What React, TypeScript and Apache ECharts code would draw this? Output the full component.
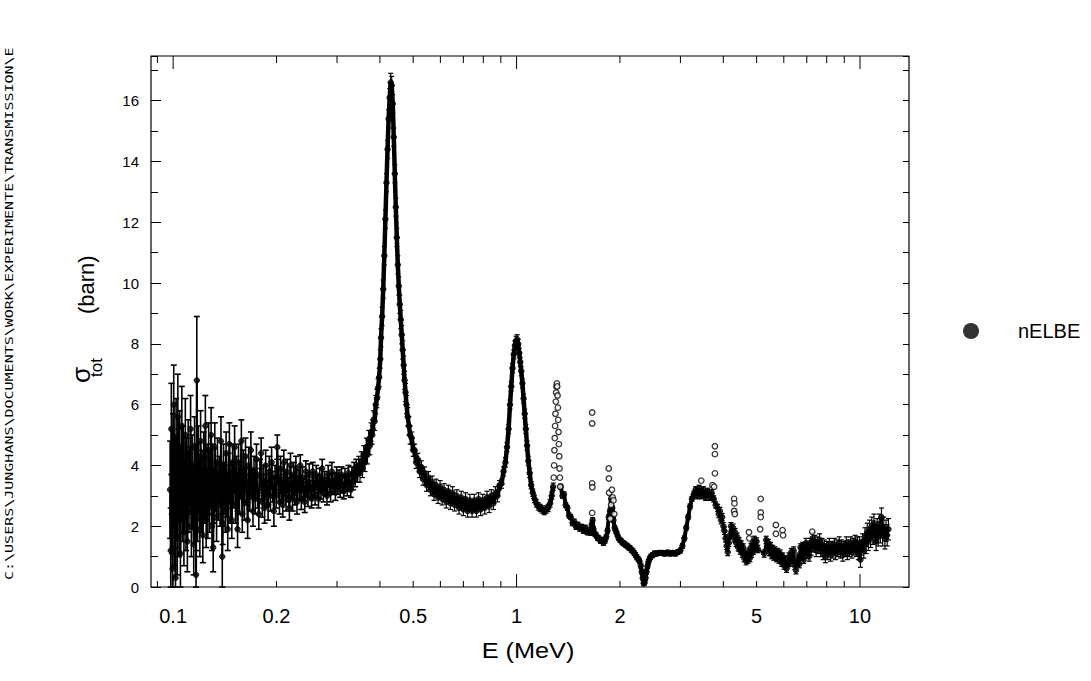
import React, { useEffect, useRef } from "react";
import * as echarts from "echarts";

// ---------- data: [E (MeV), sigma_tot (barn), error (barn)] ----------
const lowEnergyPoints = [
  [0.098, 3.2, 1.6], [0.0984, 1.2, 1.4], [0.0988, 5.2, 1.5], [0.0992, 2.4, 1.3], [0.0996, 0.6, 1.2],
  [0.1, 4.3, 1.4], [0.1004, 6.0, 1.3], [0.1008, 2.0, 1.3], [0.1012, 3.6, 1.4], [0.1016, 0.3, 1.0],
  [0.102, 4.9, 1.3], [0.1024, 2.9, 1.2], [0.1028, 1.6, 1.2], [0.1032, 5.6, 1.4], [0.1036, 3.9, 1.3],
  [0.104, 2.2, 1.2], [0.1045, 4.6, 1.2], [0.105, 1.1, 1.1], [0.1055, 3.4, 1.2], [0.106, 5.3, 1.3],
  [0.1065, 2.6, 1.1], [0.107, 4.1, 1.2], [0.1075, 1.8, 1.1], [0.108, 3.0, 1.2], [0.1085, 5.0, 1.2],
  [0.109, 2.3, 1.1], [0.1095, 3.8, 1.1], [0.11, 1.5, 1.0], [0.1106, 4.4, 1.1], [0.1112, 2.8, 1.0],
  [0.1118, 3.5, 1.1], [0.1124, 5.2, 1.1], [0.113, 2.0, 1.0], [0.1136, 4.0, 1.0], [0.1142, 2.9, 1.0],
  [0.1148, 1.4, 1.0], [0.1154, 4.6, 1.0], [0.116, 3.7, 1.0], [0.1166, 0.4, 0.8], [0.1172, 6.8, 2.1],
  [0.1178, 2.5, 1.0], [0.1184, 4.3, 1.0], [0.119, 3.1, 0.9], [0.1196, 1.9, 0.9],
  [0.1202, 4.8, 1.0], [0.1208, 2.7, 0.9], [0.1214, 3.6, 0.9], [0.122, 1.7, 0.9], [0.1227, 4.2, 0.9],
  [0.1234, 3.0, 0.9], [0.1241, 5.3, 1.0], [0.1248, 2.2, 0.9], [0.1255, 3.8, 0.9], [0.1262, 2.4, 0.8],
  [0.1269, 4.5, 0.9], [0.1276, 2.6, 0.8], [0.1283, 3.4, 0.8], [0.129, 5.0, 0.9], [0.1297, 2.0, 0.8],
  [0.1304, 3.9, 0.8], [0.1308, 1.3, 0.8], [0.1315, 2.9, 0.8], [0.1322, 4.6, 0.8], [0.133, 3.3, 0.8],
  [0.1338, 2.3, 0.8], [0.1346, 4.1, 0.8], [0.1354, 3.0, 0.8], [0.1362, 3.6, 0.7], [0.137, 2.7, 0.7],
  [0.1378, 4.8, 0.8], [0.1386, 3.1, 0.7], [0.139, 1.0, 1.0], [0.1394, 2.1, 0.7], [0.1402, 4.0, 0.7],
  [0.141, 3.4, 0.7], [0.1418, 2.5, 0.7], [0.1426, 4.4, 0.7], [0.1434, 3.0, 0.7], [0.1442, 1.9, 0.7],
  [0.145, 3.7, 0.7], [0.1458, 4.7, 0.7], [0.1466, 2.8, 0.7], [0.1474, 3.5, 0.6], [0.1482, 2.2, 0.6],
  [0.149, 4.1, 0.6],
  [0.15, 3.2, 0.6], [0.151, 4.6, 0.7], [0.152, 2.7, 0.6], [0.153, 3.7, 0.6], [0.154, 1.9, 0.6],
  [0.155, 4.1, 0.6], [0.156, 3.0, 0.6], [0.157, 3.5, 0.6], [0.158, 4.8, 0.7], [0.159, 2.4, 0.6],
  [0.16, 3.9, 0.6], [0.1612, 2.8, 0.6], [0.1624, 4.3, 0.6], [0.1636, 3.3, 0.6], [0.1648, 2.2, 0.6],
  [0.166, 4.0, 0.6], [0.1672, 3.0, 0.5], [0.1684, 4.5, 0.6], [0.1696, 3.4, 0.5], [0.1708, 2.5, 0.5],
  [0.172, 3.8, 0.5], [0.1734, 2.9, 0.5], [0.1748, 4.2, 0.5], [0.1762, 3.1, 0.5], [0.1776, 2.4, 0.5],
  [0.179, 3.7, 0.5], [0.1804, 4.4, 0.5], [0.1818, 2.8, 0.5], [0.1832, 3.5, 0.5], [0.1846, 2.6, 0.5],
  [0.186, 4.0, 0.5], [0.1875, 3.2, 0.5], [0.189, 2.7, 0.5], [0.1905, 3.8, 0.5], [0.192, 3.0, 0.5],
  [0.1935, 4.1, 0.5], [0.195, 3.3, 0.5], [0.1965, 2.5, 0.5], [0.198, 3.6, 0.4],
  [0.1995, 3.0, 0.4], [0.201, 4.6, 0.4], [0.2025, 3.5, 0.4], [0.204, 2.8, 0.4], [0.2055, 3.9, 0.4],
  [0.207, 3.2, 0.4], [0.2085, 2.7, 0.4], [0.21, 4.1, 0.4], [0.2116, 3.4, 0.4], [0.2132, 2.9, 0.4],
  [0.2148, 3.8, 0.4], [0.2164, 3.2, 0.4], [0.218, 2.6, 0.4], [0.2196, 4.0, 0.4], [0.2212, 3.3, 0.4],
  [0.2228, 2.9, 0.4], [0.2244, 3.7, 0.4], [0.226, 3.1, 0.4], [0.2277, 3.9, 0.4], [0.2294, 2.8, 0.4],
  [0.2311, 3.5, 0.35], [0.2328, 3.2, 0.35], [0.2345, 4.0, 0.35], [0.2362, 2.9, 0.35], [0.238, 3.6, 0.35],
  [0.2398, 3.2, 0.35], [0.2416, 2.8, 0.35], [0.2434, 3.8, 0.35], [0.2452, 3.3, 0.35], [0.247, 3.0, 0.35],
  [0.249, 3.7, 0.35],
  [0.251, 3.2, 0.3], [0.253, 2.9, 0.3], [0.255, 3.8, 0.3], [0.257, 3.3, 0.3], [0.259, 3.0, 0.3],
  [0.261, 3.7, 0.3], [0.263, 3.4, 0.3], [0.265, 2.9, 0.3], [0.2672, 3.6, 0.3], [0.2694, 3.2, 0.3],
  [0.2716, 3.9, 0.3], [0.2738, 3.1, 0.3], [0.276, 3.5, 0.3], [0.2782, 3.3, 0.3], [0.2805, 3.0, 0.3],
  [0.2828, 3.7, 0.3], [0.2851, 3.4, 0.3], [0.2874, 3.1, 0.3], [0.2897, 3.8, 0.3], [0.292, 3.3, 0.25],
  [0.2944, 3.5, 0.25], [0.2968, 3.1, 0.25], [0.2992, 3.7, 0.25],
  [0.3016, 3.3, 0.25], [0.304, 3.6, 0.25], [0.3065, 3.2, 0.25], [0.309, 3.7, 0.25], [0.3115, 3.35, 0.25],
  [0.314, 3.15, 0.25], [0.3165, 3.65, 0.25], [0.319, 3.4, 0.25], [0.3215, 3.25, 0.25], [0.324, 3.75, 0.25],
  [0.3265, 3.45, 0.25], [0.329, 3.2, 0.25], [0.3315, 3.7, 0.25], [0.334, 3.45, 0.25], [0.3365, 3.85, 0.25],
  [0.339, 3.55, 0.25], [0.3415, 3.95, 0.25], [0.344, 3.7, 0.25],
];

const resonancePoints = [
  [0.347, 4.0, 0.3], [0.35, 3.75, 0.3], [0.353, 4.15, 0.3], [0.356, 3.9, 0.3], [0.359, 4.35, 0.3],
  [0.362, 4.1, 0.3], [0.365, 4.6, 0.3], [0.368, 4.35, 0.3], [0.371, 4.85, 0.3], [0.374, 4.65, 0.3],
  [0.377, 5.1, 0.3], [0.38, 5.0, 0.3], [0.383, 5.5, 0.3], [0.386, 5.45, 0.3], [0.389, 6.0, 0.3],
  [0.392, 6.2, 0.3], [0.395, 6.55, 0.3], [0.398, 6.9, 0.3], [0.401, 7.5, 0.3], [0.403, 8.2, 0.3],
  [0.406, 8.9, 0.3], [0.409, 9.8, 0.3], [0.412, 10.9, 0.3], [0.415, 12.1, 0.3], [0.418, 13.3, 0.3],
  [0.421, 14.4, 0.3], [0.424, 15.4, 0.3], [0.427, 16.1, 0.3], [0.43, 16.6, 0.3], [0.433, 16.5, 0.3],
  [0.436, 15.9, 0.3], [0.439, 14.8, 0.3], [0.442, 13.6, 0.3], [0.445, 12.5, 0.3], [0.448, 11.5, 0.3],
  [0.451, 10.6, 0.3], [0.454, 9.9, 0.3], [0.457, 9.3, 0.3], [0.46, 8.8, 0.3], [0.463, 8.3, 0.3],
  [0.466, 7.8, 0.3], [0.469, 7.3, 0.3], [0.472, 6.8, 0.3], [0.475, 6.4, 0.3], [0.478, 6.0, 0.3],
  [0.482, 5.6, 0.3], [0.486, 5.3, 0.3], [0.49, 5.0, 0.3], [0.495, 4.9, 0.2], [0.5, 4.5, 0.2],
  [0.505, 4.5, 0.2], [0.51, 4.1, 0.2], [0.516, 4.2, 0.2], [0.522, 3.8, 0.2], [0.528, 3.95, 0.2],
  [0.534, 3.55, 0.2], [0.54, 3.75, 0.2], [0.547, 3.35, 0.2], [0.554, 3.6, 0.2], [0.561, 3.2, 0.2],
  [0.568, 3.45, 0.2], [0.575, 3.05, 0.2], [0.583, 3.35, 0.2], [0.591, 2.95, 0.2], [0.599, 3.3, 0.2],
  [0.607, 2.9, 0.2], [0.615, 3.2, 0.2], [0.624, 2.8, 0.2], [0.633, 3.15, 0.2], [0.642, 2.75, 0.2],
  [0.651, 3.1, 0.2], [0.66, 2.7, 0.2], [0.67, 3.0, 0.2], [0.68, 2.6, 0.2], [0.69, 2.95, 0.2],
  [0.7, 2.55, 0.2], [0.71, 2.9, 0.2], [0.72, 2.5, 0.2], [0.731, 2.85, 0.2], [0.742, 2.5, 0.2],
  [0.753, 2.85, 0.2], [0.764, 2.5, 0.2], [0.775, 2.9, 0.2], [0.786, 2.55, 0.2], [0.797, 2.85, 0.2],
  [0.808, 2.6, 0.2], [0.82, 2.95, 0.2], [0.832, 2.65, 0.2], [0.844, 3.0, 0.2], [0.856, 2.75, 0.2],
  [0.868, 3.1, 0.2], [0.88, 3.0, 0.2], [0.892, 3.35, 0.15], [0.904, 3.4, 0.15], [0.916, 3.8, 0.15],
  [0.928, 4.1, 0.15], [0.938, 4.6, 0.15], [0.948, 5.2, 0.15], [0.957, 6.0, 0.15], [0.965, 6.6, 0.15],
  [0.973, 7.2, 0.15], [0.981, 7.65, 0.15], [0.989, 7.95, 0.15], [0.997, 8.1, 0.15], [1.004, 8.15, 0.15],
  [1.011, 8.0, 0.15], [1.018, 7.7, 0.15], [1.025, 7.4, 0.15], [1.032, 7.1, 0.15], [1.04, 6.7, 0.15],
  [1.048, 6.2, 0.15], [1.056, 5.7, 0.15], [1.064, 5.2, 0.15], [1.073, 4.65, 0.15], [1.082, 4.15, 0.15],
  [1.092, 3.75, 0.15], [1.103, 3.35, 0.12], [1.115, 3.1, 0.12], [1.128, 2.9, 0.12], [1.142, 2.75, 0.12],
  [1.157, 2.65, 0.12], [1.172, 2.6, 0.12], [1.188, 2.55, 0.12], [1.204, 2.5, 0.12], [1.22, 2.55, 0.12],
  [1.236, 2.6, 0.12], [1.252, 2.75, 0.12], [1.266, 3.0, 0.12], [1.278, 3.3, 0.12],
];

const midPoints = [
  [1.345, 3.3, 0.08], [1.36, 3.0, 0.08], [1.374, 3.05, 0.08], [1.39, 2.7, 0.08], [1.406, 2.6, 0.08],
  [1.422, 2.35, 0.08], [1.438, 2.3, 0.08], [1.455, 2.1, 0.08], [1.472, 2.15, 0.08], [1.49, 1.98, 0.08],
  [1.508, 2.05, 0.08], [1.527, 1.92, 0.08], [1.546, 1.98, 0.08], [1.565, 1.85, 0.08], [1.585, 1.95, 0.08],
  [1.605, 1.8, 0.08], [1.625, 1.88, 0.08], [1.643, 1.78, 0.08], [1.655, 2.05, 0.08], [1.665, 2.2, 0.08],
  [1.675, 1.9, 0.08], [1.69, 1.75, 0.08], [1.705, 1.7, 0.08], [1.72, 1.62, 0.08], [1.737, 1.6, 0.08],
  [1.754, 1.52, 0.08], [1.772, 1.55, 0.08], [1.79, 1.45, 0.08], [1.808, 1.52, 0.08], [1.825, 1.65, 0.08],
  [1.84, 1.85, 0.08], [1.855, 2.3, 0.08], [1.87, 2.5, 0.08], [1.885, 2.9, 0.08], [1.9, 2.6, 0.08],
  [1.915, 2.2, 0.08], [1.93, 1.95, 0.08], [1.945, 1.85, 0.08], [1.96, 1.75, 0.08], [1.98, 1.62, 0.08],
  [2.0, 1.55, 0.08], [2.02, 1.5, 0.08], [2.04, 1.45, 0.08], [2.06, 1.42, 0.08], [2.08, 1.38, 0.08],
  [2.1, 1.35, 0.08], [2.12, 1.3, 0.08], [2.14, 1.28, 0.08], [2.16, 1.22, 0.08], [2.18, 1.18, 0.08],
  [2.2, 1.12, 0.08], [2.22, 1.05, 0.08], [2.24, 0.98, 0.08], [2.26, 0.92, 0.08], [2.28, 0.85, 0.08],
  [2.3, 0.7, 0.08], [2.315, 0.5, 0.08], [2.33, 0.3, 0.08], [2.345, 0.12, 0.08], [2.36, 0.15, 0.08],
  [2.375, 0.3, 0.08], [2.39, 0.5, 0.08], [2.405, 0.68, 0.08], [2.42, 0.82, 0.08], [2.44, 0.93, 0.08],
  [2.46, 1.0, 0.08], [2.49, 1.05, 0.08], [2.52, 1.1, 0.08], [2.55, 1.1, 0.08], [2.6, 1.12, 0.08],
  [2.65, 1.12, 0.08], [2.7, 1.1, 0.08], [2.75, 1.13, 0.08], [2.8, 1.1, 0.08], [2.85, 1.12, 0.08],
  [2.9, 1.1, 0.08], [2.95, 1.15, 0.08], [3.0, 1.2, 0.08], [3.04, 1.35, 0.08], [3.08, 1.6, 0.08],
  [3.12, 1.95, 0.08], [3.16, 2.3, 0.08], [3.2, 2.65, 0.08], [3.24, 2.9, 0.08], [3.28, 3.05, 0.1],
  [3.32, 3.2, 0.1], [3.36, 3.0, 0.1], [3.4, 3.25, 0.1], [3.45, 3.0, 0.1], [3.5, 3.2, 0.1],
  [3.55, 2.95, 0.1], [3.6, 3.15, 0.1], [3.65, 2.95, 0.1], [3.7, 3.1, 0.1], [3.75, 2.9, 0.1],
  [3.8, 2.7, 0.1],
];

const highPoints = [
  [3.85, 2.6, 0.12], [3.88, 2.4, 0.12], [3.91, 2.5, 0.12], [3.94, 2.2, 0.12], [3.97, 2.3, 0.12],
  [4.0, 2.0, 0.12], [4.03, 1.85, 0.12], [4.06, 1.6, 0.12], [4.09, 1.35, 0.12], [4.12, 1.15, 0.12],
  [4.15, 1.45, 0.12], [4.18, 1.7, 0.12], [4.21, 2.0, 0.12], [4.24, 1.75, 0.12], [4.27, 1.95, 0.12],
  [4.3, 1.6, 0.12], [4.33, 1.8, 0.12], [4.36, 1.45, 0.12], [4.39, 1.65, 0.12], [4.42, 1.3, 0.12],
  [4.45, 1.5, 0.12], [4.48, 1.2, 0.12], [4.51, 1.4, 0.12], [4.54, 1.1, 0.12], [4.57, 1.3, 0.12],
  [4.6, 0.95, 0.12], [4.63, 1.1, 0.12], [4.66, 0.85, 0.12], [4.69, 1.05, 0.12], [4.72, 0.9, 0.12],
  [4.75, 1.15, 0.12], [4.78, 0.95, 0.12], [4.81, 1.3, 0.12], [4.84, 1.1, 0.12], [4.87, 1.45, 0.12],
  [4.9, 1.2, 0.12], [4.93, 1.55, 0.12], [4.96, 1.3, 0.12], [5.0, 1.5, 0.12], [5.04, 1.25, 0.12],
  [5.26, 1.1, 0.12], [5.33, 1.55, 0.12], [5.37, 1.3, 0.12], [5.41, 1.45, 0.12], [5.45, 1.15, 0.12],
  [5.49, 1.35, 0.12], [5.53, 1.05, 0.12], [5.57, 1.25, 0.12], [5.61, 1.0, 0.12], [5.66, 1.2, 0.12],
  [5.71, 0.95, 0.12], [5.76, 1.15, 0.12], [5.81, 0.9, 0.12], [5.86, 1.1, 0.12], [5.91, 0.8, 0.12],
  [5.96, 1.0, 0.12], [6.01, 0.7, 0.12], [6.06, 0.9, 0.12], [6.11, 0.6, 0.12], [6.16, 0.75, 0.12],
  [6.21, 1.0, 0.12], [6.26, 0.8, 0.12], [6.31, 1.15, 0.12], [6.36, 0.9, 0.12], [6.41, 1.2, 0.12],
  [6.46, 0.7, 0.12], [6.51, 0.55, 0.12], [6.56, 0.8, 0.12], [6.61, 1.0, 0.12], [6.66, 0.75, 0.12],
  [6.71, 1.3, 0.12], [6.76, 1.0, 0.12], [6.81, 1.35, 0.12], [6.86, 0.9, 0.12], [6.91, 1.2, 0.12],
  [6.96, 1.45, 0.15], [7.01, 1.1, 0.15], [7.06, 1.3, 0.15], [7.11, 1.0, 0.15], [7.16, 1.45, 0.15],
  [7.21, 1.25, 0.2], [7.27, 1.6, 0.2], [7.33, 1.35, 0.2], [7.39, 1.5, 0.2], [7.45, 1.2, 0.2],
  [7.51, 1.45, 0.2], [7.57, 1.3, 0.2], [7.63, 1.55, 0.2], [7.69, 1.2, 0.2], [7.75, 1.4, 0.2],
  [7.81, 1.1, 0.2], [7.87, 1.35, 0.2], [7.93, 1.0, 0.2], [8.0, 1.3, 0.2], [8.07, 1.1, 0.2],
  [8.14, 1.4, 0.2], [8.21, 1.05, 0.2], [8.28, 1.3, 0.2], [8.35, 1.15, 0.2], [8.42, 1.4, 0.2],
  [8.49, 1.1, 0.2], [8.56, 1.35, 0.2], [8.63, 1.2, 0.2], [8.7, 1.45, 0.2], [8.77, 1.15, 0.2],
  [8.84, 1.35, 0.2], [8.91, 1.05, 0.2], [8.98, 1.3, 0.2], [9.05, 1.2, 0.2], [9.12, 1.45, 0.2],
  [9.19, 1.1, 0.2], [9.26, 1.35, 0.2], [9.33, 1.2, 0.2], [9.4, 1.45, 0.2], [9.47, 1.15, 0.2],
  [9.54, 1.4, 0.2], [9.61, 1.25, 0.2], [9.68, 1.5, 0.2], [9.75, 1.2, 0.2], [9.82, 1.45, 0.2],
  [9.89, 1.1, 0.2], [9.96, 1.4, 0.25], [10.03, 0.9, 0.25], [10.1, 1.3, 0.25], [10.18, 1.5, 0.25],
  [10.26, 1.2, 0.25], [10.34, 1.65, 0.3], [10.42, 1.4, 0.3], [10.5, 1.8, 0.3], [10.58, 1.5, 0.3],
  [10.66, 1.9, 0.3], [10.74, 1.6, 0.3], [10.82, 2.0, 0.3], [10.9, 1.7, 0.3], [10.98, 2.1, 0.3],
  [11.06, 1.75, 0.3], [11.14, 1.5, 0.3], [11.22, 1.95, 0.3], [11.3, 1.65, 0.3], [11.38, 2.05, 0.35],
  [11.46, 1.8, 0.35], [11.55, 2.3, 0.3], [11.64, 1.7, 0.35], [11.73, 1.95, 0.35], [11.82, 1.6, 0.35],
  [11.91, 1.85, 0.35], [12.0, 1.7, 0.35], [12.1, 1.9, 0.35],
];

// isolated points without visible error bars: [E (MeV), sigma_tot (barn)]
const isolatedPoints = [
  [1.283, 3.6], [1.286, 4.0], [1.289, 4.5], [1.292, 4.9], [1.295, 5.3], [1.298, 5.7], [1.301, 6.1],
  [1.304, 6.4], [1.307, 6.6], [1.31, 6.7], [1.313, 6.6], [1.316, 6.3], [1.319, 5.9], [1.322, 5.5],
  [1.325, 5.1], [1.328, 4.7], [1.331, 4.3], [1.334, 3.9], [1.337, 3.6], [1.34, 3.3],
  [1.66, 5.74], [1.66, 5.38], [1.66, 3.41], [1.662, 3.28], [1.66, 2.44],
  [1.855, 3.9], [1.857, 3.57], [1.86, 3.1], [1.895, 3.2], [1.905, 2.95], [1.885, 2.7], [1.915, 2.85],
  [1.925, 2.4], [1.875, 2.25],
  [3.45, 3.5], [3.78, 4.63], [3.78, 4.37], [3.78, 3.74], [3.72, 3.35], [3.76, 3.3],
  [4.3, 2.9], [4.31, 2.75], [4.3, 2.5], [4.32, 2.4], [4.75, 1.8], [4.76, 1.6],
  [5.14, 2.9], [5.14, 2.45], [5.14, 2.3], [5.12, 1.9], [5.69, 2.04], [5.69, 1.75], [5.95, 1.87],
  [5.97, 1.7], [7.26, 1.82],
];

// axis ticks
const xTickValues = [0.09, 0.1, 0.2, 0.3, 0.4, 0.5, 0.6, 0.7, 0.8, 0.9, 1, 2, 3, 4, 5, 6, 7, 8, 9, 10];
const xDecadeTicks = [0.1, 1, 10];
const xTickLabels = ["0.1", "0.2", "0.5", "1", "2", "5", "10"];
const xLabelValues = [0.1, 0.2, 0.5, 1, 2, 5, 10];
const xRange = [0.0862, 13.89];
const yRange = [0, 17.47];

const FONT = '"Liberation Sans", Arial, sans-serif';
const SERIES_NAME = "nELBE";

function buildOption() {
  const bandSegments = [lowEnergyPoints, resonancePoints, midPoints, highPoints];
  const segmentWidths = [2, 4.5, 4, 2.5];
  const allBand = ([] as number[][]).concat(...bandSegments);
  const lowEdge = lowEnergyPoints[lowEnergyPoints.length - 1][0];

  const tickData = xTickValues.map((v) => [
    v,
    0,
    xDecadeTicks.indexOf(v) >= 0 ? 1 : 0,
    xLabelValues.indexOf(v),
  ]);

  const renderErrorBar = (params: any, api: any) => {
    const e = api.value(0);
    const s = api.value(1);
    const d = api.value(2);
    const hi = api.coord([e, s + d]);
    const lo = api.coord([e, Math.max(0, s - d)]);
    const noisy = e <= lowEdge;
    const w = noisy ? 3 : 2.5;
    const style = { stroke: "#000", lineWidth: noisy ? 1.6 : 1.2 };
    return {
      type: "group",
      children: [
        { type: "line", shape: { x1: hi[0], y1: hi[1], x2: lo[0], y2: lo[1] }, style },
        { type: "line", shape: { x1: hi[0] - w, y1: hi[1], x2: hi[0] + w, y2: hi[1] }, style },
        { type: "line", shape: { x1: lo[0] - w, y1: lo[1], x2: lo[0] + w, y2: lo[1] }, style },
      ],
    };
  };

  const renderXTick = (params: any, api: any) => {
    const v = api.value(0);
    const major = api.value(2) === 1;
    const labelIdx = api.value(3);
    const cs = params.coordSys;
    const x = api.coord([v, 0])[0];
    const bottom = cs.y + cs.height;
    const top = cs.y;
    const len = major ? 13 : 6;
    const style = { stroke: "#000", lineWidth: 1 };
    const children: any[] = [
      { type: "line", shape: { x1: x, y1: bottom, x2: x, y2: bottom - len }, style },
      { type: "line", shape: { x1: x, y1: top, x2: x, y2: top + (major ? 13 : 7) }, style },
    ];
    if (labelIdx >= 0) {
      children.push({
        type: "text",
        x,
        y: bottom + 19,
        style: {
          text: xTickLabels[labelIdx],
          fill: "#000",
          font: "20px " + FONT,
          align: "center",
          verticalAlign: "top",
          textAlign: "center",
          textVerticalAlign: "top",
        },
      });
    }
    return { type: "group", children };
  };

  const yBase = {
    type: "value",
    min: yRange[0],
    max: yRange[1],
    splitLine: { show: false },
    axisLine: { show: false },
  };

  const series: any[] = [
    {
      type: "custom",
      name: "error bars",
      data: allBand,
      encode: { x: 0, y: 1 },
      renderItem: renderErrorBar,
      clip: false,
      silent: true,
      z: 1,
    },
    {
      type: "scatter",
      name: SERIES_NAME,
      data: allBand.map((p) => [p[0], p[1]]),
      symbol: "circle",
      symbolSize: 5.5,
      itemStyle: { color: "#000", borderColor: "#000", borderWidth: 1 },
      silent: true,
      z: 2,
    },
    {
      type: "scatter",
      name: SERIES_NAME,
      data: isolatedPoints,
      symbol: "circle",
      symbolSize: 5.5,
      itemStyle: { color: "#fff", borderColor: "#000", borderWidth: 1.3 },
      silent: true,
      z: 4,
    },
  ];
  bandSegments.forEach((seg, i) => {
    series.push({
      type: "line",
      name: "band " + i,
      data: seg.map((p) => [p[0], p[1]]),
      showSymbol: false,
      symbol: "none",
      lineStyle: { color: "#000", width: segmentWidths[i] },
      silent: true,
      z: 3,
    });
  });
  series.push({
    type: "custom",
    name: "x ticks",
    data: tickData,
    encode: { x: 0, y: 1 },
    renderItem: renderXTick,
    clip: false,
    silent: true,
    z: 10,
  });

  return {
    animation: false,
    backgroundColor: "#fff",
    grid: {
      left: 151,
      top: 56,
      width: 758,
      height: 531,
      show: true,
      borderColor: "#000",
      borderWidth: 1.2,
      backgroundColor: "transparent",
    },
    legend: {
      data: [{ name: SERIES_NAME, icon: "circle", itemStyle: { color: "#000", borderWidth: 0 } }],
      left: 958,
      top: 316,
      itemWidth: 16,
      itemHeight: 16,
      textStyle: { color: "#000", fontSize: 20, fontFamily: FONT, padding: [0, 0, 0, 34] },
      selectedMode: false,
    },
    xAxis: {
      type: "log",
      logBase: 10,
      min: xRange[0],
      max: xRange[1],
      axisLine: { show: false },
      axisTick: { show: false },
      axisLabel: { show: false },
      splitLine: { show: false },
      minorTick: { show: false },
    },
    yAxis: [
      {
        ...yBase,
        position: "left",
        interval: 2,
        axisTick: { inside: true, length: 10, lineStyle: { color: "#000" } },
        axisLabel: { color: "#000", fontSize: 15, fontFamily: FONT, margin: 12, showMaxLabel: false },
      },
      {
        ...yBase,
        position: "left",
        interval: 1,
        axisTick: { inside: true, length: 7, lineStyle: { color: "#000" } },
        axisLabel: { show: false },
      },
      {
        ...yBase,
        position: "right",
        interval: 1,
        axisTick: { inside: true, length: 6, lineStyle: { color: "#000" } },
        axisLabel: { show: false },
      },
    ],
    graphic: [
      {
        type: "text",
        x: 15,
        y: 580,
        rotation: Math.PI / 2,
        scaleX: 1.43,
        style: {
          text: "C:\\USERS\\JUNGHANS\\DOCUMENTS\\WORK\\EXPERIMENTE\\TRANSMISSION\\E",
          font: '10.5px "DejaVu Sans Mono", monospace',
          fill: "#000",
          align: "left",
          verticalAlign: "bottom",
          textAlign: "left",
          textVerticalAlign: "bottom",
        },
      },
      {
        type: "text",
        x: 93.5,
        y: 383,
        rotation: Math.PI / 2,
        style: {
          text: "σ",
          font: "26px " + FONT,
          fill: "#000",
          align: "left",
          verticalAlign: "bottom",
          textAlign: "left",
          textVerticalAlign: "bottom",
        },
      },
      {
        type: "text",
        x: 104.5,
        y: 377,
        rotation: Math.PI / 2,
        style: {
          text: "tot",
          font: "17px " + FONT,
          fill: "#000",
          align: "left",
          verticalAlign: "bottom",
          textAlign: "left",
          textVerticalAlign: "bottom",
        },
      },
      {
        type: "text",
        x: 97,
        y: 314,
        rotation: Math.PI / 2,
        style: {
          text: "(barn)",
          font: "22px " + FONT,
          fill: "#000",
          align: "left",
          verticalAlign: "bottom",
          textAlign: "left",
          textVerticalAlign: "bottom",
        },
      },
      {
        type: "text",
        x: 528,
        y: 651,
        scaleX: 1.15,
        style: {
          text: "E (MeV)",
          font: "22px " + FONT,
          fill: "#000",
          align: "center",
          verticalAlign: "middle",
          textAlign: "center",
          textVerticalAlign: "middle",
        },
      },
    ],
    series,
  };
}

export default function App() {
  const ref = useRef<HTMLDivElement>(null);
  useEffect(() => {
    if (!ref.current) return;
    const chart = echarts.init(ref.current, null, { renderer: "svg" });
    chart.setOption(buildOption() as any);
    return () => chart.dispose();
  }, []);
  return (
    <div
      ref={ref}
      style={{ position: "absolute", left: 0, top: 0, width: 1091, height: 681, background: "#fff" }}
    />
  );
}
